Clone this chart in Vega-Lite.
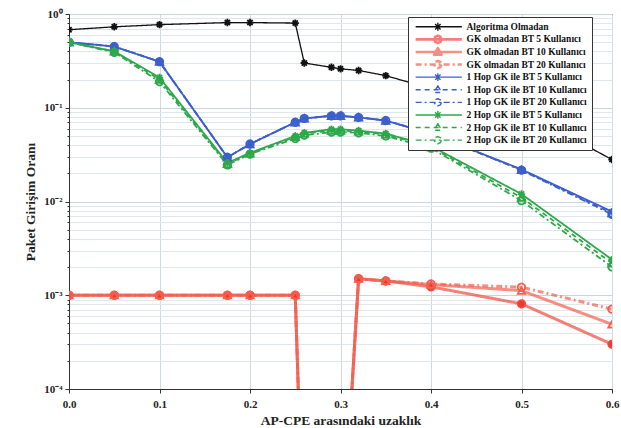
{
  "$schema": "https://vega.github.io/schema/vega-lite/v6.json",
  "width": 543,
  "height": 375,
  "autosize": "none",
  "padding": {"left": 69, "top": 14, "right": 9, "bottom": 39},
  "background": "white",
  "config": {
    "view": {"stroke": "#333333", "strokeWidth": 1},
    "font": "Liberation Serif"
  },
  "data": {"values": [
    {"s":"Algoritma Olmadan","x":0,"y":0.68},{"s":"Algoritma Olmadan","x":0.05,"y":0.73},{"s":"Algoritma Olmadan","x":0.1,"y":0.77},{"s":"Algoritma Olmadan","x":0.175,"y":0.81},{"s":"Algoritma Olmadan","x":0.2,"y":0.81},{"s":"Algoritma Olmadan","x":0.25,"y":0.80},{"s":"Algoritma Olmadan","x":0.26,"y":0.30},{"s":"Algoritma Olmadan","x":0.29,"y":0.27},{"s":"Algoritma Olmadan","x":0.3,"y":0.26},{"s":"Algoritma Olmadan","x":0.32,"y":0.25},{"s":"Algoritma Olmadan","x":0.35,"y":0.22},{"s":"Algoritma Olmadan","x":0.4,"y":0.16},{"s":"Algoritma Olmadan","x":0.5,"y":0.093},{"s":"Algoritma Olmadan","x":0.6,"y":0.028},
    {"s":"GK olmadan BT 5 Kullanıcı","x":0,"y":0.001},{"s":"GK olmadan BT 5 Kullanıcı","x":0.05,"y":0.001},{"s":"GK olmadan BT 5 Kullanıcı","x":0.1,"y":0.001},{"s":"GK olmadan BT 5 Kullanıcı","x":0.175,"y":0.001},{"s":"GK olmadan BT 5 Kullanıcı","x":0.2,"y":0.001},{"s":"GK olmadan BT 5 Kullanıcı","x":0.25,"y":0.001},{"s":"GK olmadan BT 5 Kullanıcı","x":0.26,"y":0.000001},{"s":"GK olmadan BT 5 Kullanıcı","x":0.29,"y":0.000001},{"s":"GK olmadan BT 5 Kullanıcı","x":0.3,"y":0.000001},{"s":"GK olmadan BT 5 Kullanıcı","x":0.32,"y":0.0015},{"s":"GK olmadan BT 5 Kullanıcı","x":0.35,"y":0.00142},{"s":"GK olmadan BT 5 Kullanıcı","x":0.4,"y":0.00123},{"s":"GK olmadan BT 5 Kullanıcı","x":0.5,"y":0.00081},{"s":"GK olmadan BT 5 Kullanıcı","x":0.6,"y":0.0003},
    {"s":"GK olmadan BT 10 Kullanıcı","x":0,"y":0.001},{"s":"GK olmadan BT 10 Kullanıcı","x":0.05,"y":0.001},{"s":"GK olmadan BT 10 Kullanıcı","x":0.1,"y":0.001},{"s":"GK olmadan BT 10 Kullanıcı","x":0.175,"y":0.001},{"s":"GK olmadan BT 10 Kullanıcı","x":0.2,"y":0.001},{"s":"GK olmadan BT 10 Kullanıcı","x":0.25,"y":0.001},{"s":"GK olmadan BT 10 Kullanıcı","x":0.26,"y":0.000001},{"s":"GK olmadan BT 10 Kullanıcı","x":0.29,"y":0.000001},{"s":"GK olmadan BT 10 Kullanıcı","x":0.3,"y":0.000001},{"s":"GK olmadan BT 10 Kullanıcı","x":0.32,"y":0.0015},{"s":"GK olmadan BT 10 Kullanıcı","x":0.35,"y":0.00142},{"s":"GK olmadan BT 10 Kullanıcı","x":0.4,"y":0.0013},{"s":"GK olmadan BT 10 Kullanıcı","x":0.5,"y":0.00112},{"s":"GK olmadan BT 10 Kullanıcı","x":0.6,"y":0.00049},
    {"s":"GK olmadan BT 20 Kullanıcı","x":0,"y":0.001},{"s":"GK olmadan BT 20 Kullanıcı","x":0.05,"y":0.001},{"s":"GK olmadan BT 20 Kullanıcı","x":0.1,"y":0.001},{"s":"GK olmadan BT 20 Kullanıcı","x":0.175,"y":0.001},{"s":"GK olmadan BT 20 Kullanıcı","x":0.2,"y":0.001},{"s":"GK olmadan BT 20 Kullanıcı","x":0.25,"y":0.001},{"s":"GK olmadan BT 20 Kullanıcı","x":0.26,"y":0.000001},{"s":"GK olmadan BT 20 Kullanıcı","x":0.29,"y":0.000001},{"s":"GK olmadan BT 20 Kullanıcı","x":0.3,"y":0.000001},{"s":"GK olmadan BT 20 Kullanıcı","x":0.32,"y":0.0015},{"s":"GK olmadan BT 20 Kullanıcı","x":0.35,"y":0.00142},{"s":"GK olmadan BT 20 Kullanıcı","x":0.4,"y":0.00132},{"s":"GK olmadan BT 20 Kullanıcı","x":0.5,"y":0.00122},{"s":"GK olmadan BT 20 Kullanıcı","x":0.6,"y":0.00071},
    {"s":"1 Hop GK ile BT 5 Kullanıcı","x":0,"y":0.50},{"s":"1 Hop GK ile BT 5 Kullanıcı","x":0.05,"y":0.45},{"s":"1 Hop GK ile BT 5 Kullanıcı","x":0.1,"y":0.31},{"s":"1 Hop GK ile BT 5 Kullanıcı","x":0.175,"y":0.0296},{"s":"1 Hop GK ile BT 5 Kullanıcı","x":0.2,"y":0.041},{"s":"1 Hop GK ile BT 5 Kullanıcı","x":0.25,"y":0.070},{"s":"1 Hop GK ile BT 5 Kullanıcı","x":0.26,"y":0.077},{"s":"1 Hop GK ile BT 5 Kullanıcı","x":0.29,"y":0.082},{"s":"1 Hop GK ile BT 5 Kullanıcı","x":0.3,"y":0.082},{"s":"1 Hop GK ile BT 5 Kullanıcı","x":0.32,"y":0.079},{"s":"1 Hop GK ile BT 5 Kullanıcı","x":0.35,"y":0.073},{"s":"1 Hop GK ile BT 5 Kullanıcı","x":0.4,"y":0.053},{"s":"1 Hop GK ile BT 5 Kullanıcı","x":0.5,"y":0.022},{"s":"1 Hop GK ile BT 5 Kullanıcı","x":0.6,"y":0.0078},
    {"s":"1 Hop GK ile BT 10 Kullanıcı","x":0,"y":0.50},{"s":"1 Hop GK ile BT 10 Kullanıcı","x":0.05,"y":0.45},{"s":"1 Hop GK ile BT 10 Kullanıcı","x":0.1,"y":0.31},{"s":"1 Hop GK ile BT 10 Kullanıcı","x":0.175,"y":0.0296},{"s":"1 Hop GK ile BT 10 Kullanıcı","x":0.2,"y":0.041},{"s":"1 Hop GK ile BT 10 Kullanıcı","x":0.25,"y":0.070},{"s":"1 Hop GK ile BT 10 Kullanıcı","x":0.26,"y":0.077},{"s":"1 Hop GK ile BT 10 Kullanıcı","x":0.29,"y":0.082},{"s":"1 Hop GK ile BT 10 Kullanıcı","x":0.3,"y":0.082},{"s":"1 Hop GK ile BT 10 Kullanıcı","x":0.32,"y":0.079},{"s":"1 Hop GK ile BT 10 Kullanıcı","x":0.35,"y":0.073},{"s":"1 Hop GK ile BT 10 Kullanıcı","x":0.4,"y":0.053},{"s":"1 Hop GK ile BT 10 Kullanıcı","x":0.5,"y":0.0218},{"s":"1 Hop GK ile BT 10 Kullanıcı","x":0.6,"y":0.0075},
    {"s":"1 Hop GK ile BT 20 Kullanıcı","x":0,"y":0.50},{"s":"1 Hop GK ile BT 20 Kullanıcı","x":0.05,"y":0.45},{"s":"1 Hop GK ile BT 20 Kullanıcı","x":0.1,"y":0.31},{"s":"1 Hop GK ile BT 20 Kullanıcı","x":0.175,"y":0.0296},{"s":"1 Hop GK ile BT 20 Kullanıcı","x":0.2,"y":0.041},{"s":"1 Hop GK ile BT 20 Kullanıcı","x":0.25,"y":0.070},{"s":"1 Hop GK ile BT 20 Kullanıcı","x":0.26,"y":0.077},{"s":"1 Hop GK ile BT 20 Kullanıcı","x":0.29,"y":0.082},{"s":"1 Hop GK ile BT 20 Kullanıcı","x":0.3,"y":0.082},{"s":"1 Hop GK ile BT 20 Kullanıcı","x":0.32,"y":0.079},{"s":"1 Hop GK ile BT 20 Kullanıcı","x":0.35,"y":0.073},{"s":"1 Hop GK ile BT 20 Kullanıcı","x":0.4,"y":0.053},{"s":"1 Hop GK ile BT 20 Kullanıcı","x":0.5,"y":0.0216},{"s":"1 Hop GK ile BT 20 Kullanıcı","x":0.6,"y":0.0073},
    {"s":"2 Hop GK ile BT 5 Kullanıcı","x":0,"y":0.50},{"s":"2 Hop GK ile BT 5 Kullanıcı","x":0.05,"y":0.40},{"s":"2 Hop GK ile BT 5 Kullanıcı","x":0.1,"y":0.21},{"s":"2 Hop GK ile BT 5 Kullanıcı","x":0.175,"y":0.0258},{"s":"2 Hop GK ile BT 5 Kullanıcı","x":0.2,"y":0.033},{"s":"2 Hop GK ile BT 5 Kullanıcı","x":0.25,"y":0.050},{"s":"2 Hop GK ile BT 5 Kullanıcı","x":0.26,"y":0.054},{"s":"2 Hop GK ile BT 5 Kullanıcı","x":0.29,"y":0.059},{"s":"2 Hop GK ile BT 5 Kullanıcı","x":0.3,"y":0.059},{"s":"2 Hop GK ile BT 5 Kullanıcı","x":0.32,"y":0.057},{"s":"2 Hop GK ile BT 5 Kullanıcı","x":0.35,"y":0.053},{"s":"2 Hop GK ile BT 5 Kullanıcı","x":0.4,"y":0.039},{"s":"2 Hop GK ile BT 5 Kullanıcı","x":0.5,"y":0.012},{"s":"2 Hop GK ile BT 5 Kullanıcı","x":0.6,"y":0.0024},
    {"s":"2 Hop GK ile BT 10 Kullanıcı","x":0,"y":0.50},{"s":"2 Hop GK ile BT 10 Kullanıcı","x":0.05,"y":0.40},{"s":"2 Hop GK ile BT 10 Kullanıcı","x":0.1,"y":0.20},{"s":"2 Hop GK ile BT 10 Kullanıcı","x":0.175,"y":0.0252},{"s":"2 Hop GK ile BT 10 Kullanıcı","x":0.2,"y":0.0325},{"s":"2 Hop GK ile BT 10 Kullanıcı","x":0.25,"y":0.049},{"s":"2 Hop GK ile BT 10 Kullanıcı","x":0.26,"y":0.053},{"s":"2 Hop GK ile BT 10 Kullanıcı","x":0.29,"y":0.057},{"s":"2 Hop GK ile BT 10 Kullanıcı","x":0.3,"y":0.057},{"s":"2 Hop GK ile BT 10 Kullanıcı","x":0.32,"y":0.056},{"s":"2 Hop GK ile BT 10 Kullanıcı","x":0.35,"y":0.052},{"s":"2 Hop GK ile BT 10 Kullanıcı","x":0.4,"y":0.038},{"s":"2 Hop GK ile BT 10 Kullanıcı","x":0.5,"y":0.011},{"s":"2 Hop GK ile BT 10 Kullanıcı","x":0.6,"y":0.0022},
    {"s":"2 Hop GK ile BT 20 Kullanıcı","x":0,"y":0.50},{"s":"2 Hop GK ile BT 20 Kullanıcı","x":0.05,"y":0.39},{"s":"2 Hop GK ile BT 20 Kullanıcı","x":0.1,"y":0.19},{"s":"2 Hop GK ile BT 20 Kullanıcı","x":0.175,"y":0.0245},{"s":"2 Hop GK ile BT 20 Kullanıcı","x":0.2,"y":0.032},{"s":"2 Hop GK ile BT 20 Kullanıcı","x":0.25,"y":0.047},{"s":"2 Hop GK ile BT 20 Kullanıcı","x":0.26,"y":0.051},{"s":"2 Hop GK ile BT 20 Kullanıcı","x":0.29,"y":0.055},{"s":"2 Hop GK ile BT 20 Kullanıcı","x":0.3,"y":0.055},{"s":"2 Hop GK ile BT 20 Kullanıcı","x":0.32,"y":0.054},{"s":"2 Hop GK ile BT 20 Kullanıcı","x":0.35,"y":0.050},{"s":"2 Hop GK ile BT 20 Kullanıcı","x":0.4,"y":0.037},{"s":"2 Hop GK ile BT 20 Kullanıcı","x":0.5,"y":0.0102},{"s":"2 Hop GK ile BT 20 Kullanıcı","x":0.6,"y":0.0020}
  ]},
  "encoding": {
    "x": {"field": "x", "type": "quantitative",
      "scale": {"domain": [0, 0.6], "nice": false, "zero": false},
      "axis": {"title": "AP-CPE arasındaki uzaklık", "values": [0,0.1,0.2,0.3,0.4,0.5,0.6],
        "labelFont": "Liberation Serif", "labelFontWeight": "bold", "labelFontSize": 11, "labelColor": "#222",
        "titleFont": "Liberation Serif", "titleFontWeight": "bold", "titleFontSize": 13.5, "titleColor": "#222",
        "labelPadding": 5, "titlePadding": 4, "tickSize": 4, "tickColor": "#333", "domainColor": "#333",
        "grid": true, "gridColor": "#cfdbe3", "gridWidth": 1, "labelFlush": false}},
    "y": {"field": "y", "type": "quantitative",
      "scale": {"type": "log", "domain": [0.0001, 1], "nice": false},
      "axis": {"title": "Paket Girişim Oranı",
        "values": [0.0001,0.0002,0.0003,0.0004,0.0005,0.0006,0.0007,0.0008,0.0009,0.001,0.002,0.003,0.004,0.005,0.006,0.007,0.008,0.009,0.01,0.02,0.03,0.04,0.05,0.06,0.07,0.08,0.09,0.1,0.2,0.3,0.4,0.5,0.6,0.7,0.8,0.9,1],
        "labelExpr": "datum.value==1?'10⁰':datum.value==0.1?'10⁻¹':datum.value==0.01?'10⁻²':datum.value==0.001?'10⁻³':datum.value==0.0001?'10⁻⁴':''",
        "labelOverlap": false, "labelFlush": false,
        "labelFont": "Liberation Serif", "labelFontWeight": "bold", "labelFontSize": 11, "labelColor": "#222",
        "titleFont": "Liberation Serif", "titleFontWeight": "bold", "titleFontSize": 13.5, "titleColor": "#222",
        "labelPadding": 3, "titlePadding": 6, "domainColor": "#333", "tickColor": "#333",
        "tickSize": {"condition": {"test": "abs(log(datum.value)/LN10 - round(log(datum.value)/LN10)) < 0.000001", "value": 4}, "value": 2},
        "grid": true,
        "gridColor": {"condition": {"test": "abs(log(datum.value)/LN10 - round(log(datum.value)/LN10)) < 0.000001", "value": "#c9d5de"}, "value": "#dfe6ec"},
        "gridWidth": 1}},
    "color": {"field": "s", "type": "nominal",
      "scale": {
        "domain": ["Algoritma Olmadan","GK olmadan BT 5 Kullanıcı","GK olmadan BT 10 Kullanıcı","GK olmadan BT 20 Kullanıcı","1 Hop GK ile BT 5 Kullanıcı","1 Hop GK ile BT 10 Kullanıcı","1 Hop GK ile BT 20 Kullanıcı","2 Hop GK ile BT 5 Kullanıcı","2 Hop GK ile BT 10 Kullanıcı","2 Hop GK ile BT 20 Kullanıcı"],
        "range": ["#111111","#f2493f","#f2604f","#f2604f","#3c5fcc","#3c5fcc","#3c5fcc","#2ea84a","#2ea84a","#2ea84a"]},
      "legend": {"title": null, "orient": "none", "legendX": 339, "legendY": 3,
        "fillColor": "white", "strokeColor": "#333", "padding": 5,
        "labelFont": "Liberation Serif", "labelFontWeight": "bold", "labelFontSize": 9.5, "labelColor": "#111",
        "labelLimit": 0, "labelOffset": 44, "rowPadding": 1.6, "symbolSize": 36,
        "encode": {"symbols": {"update": {
          "shape": {"signal": "datum.label == 'GK olmadan BT 5 Kullanıcı' || datum.label == 'GK olmadan BT 20 Kullanıcı' || datum.label == '1 Hop GK ile BT 20 Kullanıcı' || datum.label == '2 Hop GK ile BT 20 Kullanıcı' ? 'M-0.7,0H14.7M7.9,0L7.55,0.85L6.7,1.2L5.85,0.85L5.5,0L5.85,-0.85L6.7,-1.2L7.55,-0.85Z' : (datum.label == 'GK olmadan BT 10 Kullanıcı' || datum.label == '1 Hop GK ile BT 10 Kullanıcı' || datum.label == '2 Hop GK ile BT 10 Kullanıcı') ? 'M-0.7,0H14.7M6.7,-1.3L7.95,0.9L5.45,0.9Z' : 'M-0.7,0H14.7M5.4,0H8M6.7,-1.3V1.3M5.8,-0.9L7.6,0.9M5.8,0.9L7.6,-0.9'"},
          "strokeDash": {"signal": "(datum.label == 'GK olmadan BT 20 Kullanıcı' || datum.label == '1 Hop GK ile BT 20 Kullanıcı' || datum.label == '2 Hop GK ile BT 20 Kullanıcı') ? [6,3,2,3] : (datum.label == '1 Hop GK ile BT 10 Kullanıcı' || datum.label == '2 Hop GK ile BT 10 Kullanıcı') ? [5,4] : [1,0]"},
          "strokeWidth": {"signal": "(datum.label == 'GK olmadan BT 5 Kullanıcı' || datum.label == 'GK olmadan BT 10 Kullanıcı' || datum.label == 'GK olmadan BT 20 Kullanıcı') ? 2.6 : 1.4"},
          "strokeJoin": {"value": "round"},
          "strokeCap": {"value": "butt"},
          "opacity": {"signal": "(datum.label == 'GK olmadan BT 5 Kullanıcı' || datum.label == 'GK olmadan BT 10 Kullanıcı' || datum.label == 'GK olmadan BT 20 Kullanıcı') ? 0.7 : 1"}
        }}}}
    },
    "strokeDash": {"field": "s", "type": "nominal", "legend": null,
      "scale": {
        "domain": ["Algoritma Olmadan","GK olmadan BT 5 Kullanıcı","GK olmadan BT 10 Kullanıcı","GK olmadan BT 20 Kullanıcı","1 Hop GK ile BT 5 Kullanıcı","1 Hop GK ile BT 10 Kullanıcı","1 Hop GK ile BT 20 Kullanıcı","2 Hop GK ile BT 5 Kullanıcı","2 Hop GK ile BT 10 Kullanıcı","2 Hop GK ile BT 20 Kullanıcı"],
        "range": [[1,0],[1,0],[1,0],[6,3,2,3],[1,0],[5,4],[6,3,2,3],[1,0],[5,4],[6,3,2,3]]}}
  },
  "layer": [
    {"transform": [{"filter": "indexof(datum.s,'GK olmadan')==0"}],
     "mark": {"type": "line", "clip": true, "strokeWidth": 3, "opacity": 0.7}},
    {"transform": [{"filter": "datum.s=='Algoritma Olmadan'"}],
     "mark": {"type": "line", "clip": true, "strokeWidth": 1.3}},
    {"transform": [{"filter": "indexof(datum.s,'Hop')>=0"}],
     "mark": {"type": "line", "clip": true, "strokeWidth": 1.8}},
    {"mark": {"type": "point", "clip": true, "filled": false, "strokeWidth": 1.8, "size": 55, "opacity": 1},
     "encoding": {
       "strokeDash": {"value": [1,0]},
       "shape": {"condition": [
           {"test": "datum.s=='GK olmadan BT 5 Kullanıcı' || indexof(datum.s,' 20 ')>=0", "value": "circle"},
           {"test": "indexof(datum.s,' 10 ')>=0", "value": "triangle-up"}],
         "value": "M-1,0H1M0,-1V1M-0.7,-0.7L0.7,0.7M-0.7,0.7L0.7,-0.7"},
       "fill": {"condition": {"test": "datum.s=='GK olmadan BT 5 Kullanıcı'", "value": "#f2362c"}, "value": "transparent"}
     }}
  ]
}
